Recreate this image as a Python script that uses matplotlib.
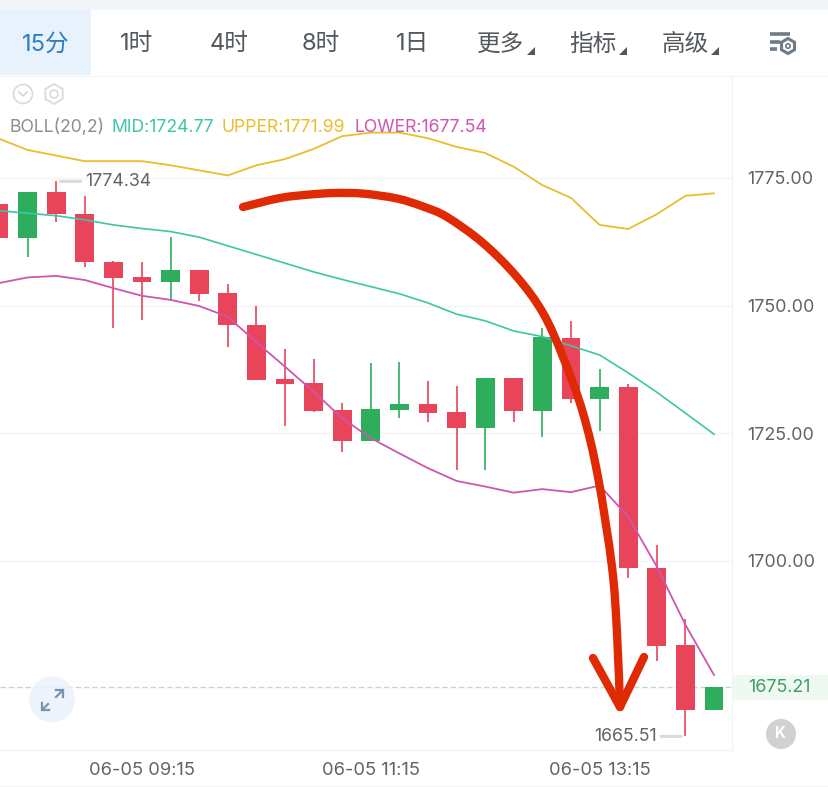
# -*- coding: utf-8 -*-
import numpy as np
import matplotlib
matplotlib.use('Agg')
import matplotlib.pyplot as plt
from matplotlib.patches import Circle, Polygon, PathPatch, RegularPolygon, Rectangle
from matplotlib.path import Path

plt.rcParams['font.family'] = ['Inter', 'Noto Sans CJK SC', 'DejaVu Sans']

# 15 minute candles, oldest first
body_top = [1769.9, 1772.2, 1772.2, 1768.0, 1758.6, 1755.5, 1757.0, 1757.0, 1752.5, 1746.2,
            1735.5, 1734.9, 1729.6, 1729.7, 1730.7, 1730.7, 1729.1, 1735.7, 1735.7, 1743.8,
            1743.7, 1734.0, 1734.0, 1698.6, 1683.4, 1675.21]
body_bot = [1763.2, 1763.2, 1767.9, 1758.5, 1755.3, 1754.6, 1754.6, 1752.3, 1746.1, 1735.3,
            1734.7, 1729.4, 1723.4, 1723.4, 1729.6, 1728.9, 1726.0, 1726.0, 1729.4, 1729.4,
            1731.6, 1731.7, 1698.5, 1683.3, 1670.7, 1670.7]
high = [1769.9, 1772.2, 1774.34, 1771.5, 1758.8, 1758.6, 1763.5, 1757.0, 1754.2, 1749.9,
        1741.4, 1739.6, 1730.8, 1738.8, 1739.0, 1735.2, 1734.3, 1735.8, 1735.7, 1745.5,
        1747.0, 1737.5, 1734.7, 1703.0, 1688.5, 1675.21]
low = [1763.2, 1759.5, 1766.4, 1757.5, 1745.5, 1747.2, 1751.1, 1750.9, 1741.9, 1735.3,
       1726.4, 1729.2, 1721.3, 1723.4, 1728.0, 1727.1, 1717.7, 1717.7, 1727.1, 1724.2,
       1730.8, 1725.3, 1696.5, 1680.2, 1665.51, 1670.7]
is_green = [0, 1, 0, 0, 0, 0, 1, 0, 0, 0, 0, 0, 0, 1, 1, 0, 0, 1, 0, 1, 0, 1, 0, 0, 0, 1]

# Bollinger bands
upper = [1782.7, 1780.5, 1779.4, 1778.3, 1778.3, 1778.3, 1777.5, 1776.5, 1775.5, 1777.5,
         1778.7, 1780.7, 1783.2, 1783.9, 1783.9, 1782.8, 1781.1, 1779.9, 1777.2, 1773.6,
         1771.1, 1765.8, 1765.0, 1767.9, 1771.5, 1771.99]
mid = [1768.6, 1768.1, 1767.6, 1766.8, 1765.8, 1765.1, 1764.5, 1763.4, 1761.7, 1760.0,
       1758.3, 1756.6, 1755.1, 1753.7, 1752.3, 1750.5, 1748.3, 1747.0, 1745.0, 1743.9,
       1742.1, 1740.3, 1736.8, 1733.0, 1728.9, 1724.77]
lower = [1754.4, 1755.5, 1755.8, 1755.0, 1753.4, 1751.9, 1751.1, 1749.9, 1747.8, 1742.8,
         1738.0, 1733.1, 1727.9, 1724.0, 1721.0, 1718.1, 1715.6, 1714.5, 1713.3, 1714.0,
         1713.4, 1714.7, 1708.6, 1698.8, 1687.4, 1677.54]

price_ticks = [1775, 1750, 1725, 1700]
time_ticks = [5, 13, 21]
time_labels = ['06-05 09:15', '06-05 11:15', '06-05 13:15']
last_price = 1675.21
max_price = 1774.34
min_price = 1665.51

tabs = ['15分', '1时', '4时', '8时', '1日', '更多', '指标', '高级']
tab_x = [46, 137, 229, 321, 413, 501, 593, 685]

# hand drawn arrow, screen pixels
arrow_x = [243, 280, 310, 335, 363, 397, 423, 447, 483, 517, 543, 563, 583, 598, 612, 617, 620]
arrow_y = [207, 198, 194.5, 193, 193.6, 198.5, 206.5, 217, 243, 277, 313, 357, 413, 477, 567, 633, 707]
head_x = [593, 620, 644]
head_y = [658, 707, 657]

W, H = 829, 787
RED = '#e8455a'
GREEN = '#2eae5c'
GREY = '#5f6468'

fig = plt.figure(figsize=(W / 100, H / 100), dpi=100, facecolor='white')

# main chart, one x unit per candle
ax = fig.add_axes([0, 1 - 750 / H, 732 / W, (750 - 76) / H])
ax.set_xlim(1 / 28.6, 733 / 28.6)
ax.set_ylim(1775 - 572 / 5.1, 1775 + 102 / 5.1)

for yy in price_ticks:
    ax.axhline(yy, color='#f3f4f5', lw=1, zorder=1)
ax.axhline(last_price, color='#cfd2d4', lw=1, ls=(0, (4, 2)), zorder=1)

xs = np.arange(len(body_top))
colors = [GREEN if g else RED for g in is_green]
tops = np.array(body_top)
bots = np.array(body_bot)
ax.vlines(xs, low, high, colors=colors, lw=1.2, zorder=2)
ax.bar(xs, tops - bots, 0.66, bottom=bots, color=colors, zorder=3)

ax.plot(xs, upper, color='#e9bd2c', lw=1.3, zorder=4)
ax.plot(xs, mid, color='#3cc6a6', lw=1.2, zorder=4)
ax.plot(xs, lower, color='#cf55ae', lw=1.3, zorder=4)

for spine in ['top', 'left']:
    ax.spines[spine].set_visible(False)
ax.spines['right'].set_color('#f1f2f3')
ax.spines['bottom'].set_color('#f1f2f3')
ax.yaxis.tick_right()
ax.set_yticks(price_ticks)
ax.set_yticklabels(['%.2f' % p for p in price_ticks])
ax.set_xticks(time_ticks)
ax.set_xticklabels(time_labels)
ax.tick_params(axis='y', length=0, pad=11, labelsize=12.9, labelcolor=GREY)
ax.tick_params(axis='x', length=0, pad=8.5, labelsize=13.2, labelcolor=GREY)

# max / min markers
hi_i = int(np.argmax(high))
lo_i = int(np.argmin(low))
ax.annotate('%.2f' % max_price, (hi_i, max_price), xytext=(29, 0), textcoords='offset pixels',
            color=GREY, fontsize=12.8, va='center', ha='left', zorder=6)
ax.annotate('', (hi_i + 0.15, max_price), xytext=(hi_i + 0.85, max_price),
            arrowprops=dict(arrowstyle='-', color='#d9dbdc', lw=2.2, shrinkA=0, shrinkB=0))
ax.annotate('%.2f' % min_price, (lo_i, min_price), xytext=(-29, 0), textcoords='offset pixels',
            color=GREY, fontsize=12.8, va='center', ha='right', zorder=6)
ax.annotate('', (lo_i - 0.15, min_price), xytext=(lo_i - 0.85, min_price),
            arrowprops=dict(arrowstyle='-', color='#d9dbdc', lw=2.2, shrinkA=0, shrinkB=0))

# overlay in screen pixels for the toolbar, buttons and the red arrow
ov = fig.add_axes([0, 0, 1, 1], facecolor='none')
ov.set_xlim(0, W)
ov.set_ylim(H, 0)
ov.axis('off')

ov.add_patch(Rectangle((0, 0), W, 10, color='#f3f6f8', lw=0))
ov.add_patch(Rectangle((0, 10), 91, 65, color='#e7f2fc', lw=0))
ov.plot([0, W], [75.5, 75.5], color='#f4f5f6', lw=1)
ov.plot([0, W], [785.5, 785.5], color='#f4f5f6', lw=1)

for i, (t, x) in enumerate(zip(tabs, tab_x)):
    ov.text(x, 44.5, t, ha='center', va='center', fontsize=17,
            color='#2f7dbf' if i == 0 else '#53585c')
for x in [531, 623, 715]:
    ov.add_patch(Polygon([[x - 4, 55], [x + 4, 55], [x + 4, 47]], color='#53585c', lw=0))

# settings icon
ov.plot([770, 790], [34, 34], color='#6f7c88', lw=2.6, solid_capstyle='butt')
ov.plot([770, 780], [42, 42], color='#6f7c88', lw=2.6, solid_capstyle='butt')
ov.plot([770, 777], [49, 49], color='#6f7c88', lw=2.6, solid_capstyle='butt')
ov.add_patch(RegularPolygon((788, 46), 6, radius=7.5, fc='none', ec='#6f7c88', lw=2.2))
ov.add_patch(Circle((788, 46), 2.2, fc='none', ec='#6f7c88', lw=1.2))

# small round buttons above the indicator legend
ov.add_patch(Circle((23, 94), 9.5, fc='none', ec='#d8dadc', lw=1.2))
ov.plot([19, 23, 27], [92, 96, 92], color='#d0d3d5', lw=1.1)
ov.add_patch(RegularPolygon((54, 94), 6, radius=10, fc='none', ec='#d8dadc', lw=1.3))
ov.add_patch(Circle((54, 94), 4, fc='none', ec='#d8dadc', lw=1.2))

# indicator legend
for x, s, c in [(10, 'BOLL(20,2)', '#8b8f93'), (112, 'MID:1724.77', '#3cc6a6'),
                (222, 'UPPER:1771.99', '#e9bd2c'), (355, 'LOWER:1677.54', '#cf55ae')]:
    ov.text(x, 127, s, color=c, fontsize=12.7, ha='left', va='center')

# last price tag
ov.add_patch(Rectangle((733, 675), 96, 25, color='#eff9f2', lw=0))
ov.text(748, 687.5, '%.2f' % last_price, color='#3f9c68', fontsize=12.9, ha='left', va='center')

# expand button
ov.add_patch(Circle((52, 699.5), 23, color='#eaf3fb', alpha=0.85, lw=0))
ov.plot([42, 48], [710, 704], color='#7b93a8', lw=1.6)
ov.plot([42, 42, 49], [703, 710, 710], color='#7b93a8', lw=1.6)
ov.plot([56, 63], [697, 690], color='#7b93a8', lw=1.6)
ov.plot([56, 63, 63], [690, 690, 697], color='#7b93a8', lw=1.6)

# back to latest button
ov.add_patch(Circle((781, 734), 15, color='#cfd1d3', lw=0))
ov.text(781, 734, 'K', color='white', fontsize=11, fontweight='bold', ha='center', va='center')

# red arrow as a Catmull-Rom curve through its points
pts = np.column_stack([arrow_x, arrow_y]).astype(float)
verts = [pts[0]]
codes = [Path.MOVETO]
for i in range(len(pts) - 1):
    p0 = pts[max(i - 1, 0)]
    p1 = pts[i]
    p2 = pts[i + 1]
    p3 = pts[min(i + 2, len(pts) - 1)]
    verts += [p1 + (p2 - p0) / 6, p2 - (p3 - p1) / 6, p2]
    codes += [Path.CURVE4] * 3
ov.add_patch(PathPatch(Path(verts, codes), fc='none', ec='#df2a04', lw=6, capstyle='round', zorder=8))
ov.plot(head_x, head_y, color='#df2a04', lw=6, solid_capstyle='round', solid_joinstyle='round', zorder=8)

fig.savefig('out.png', dpi=100)
